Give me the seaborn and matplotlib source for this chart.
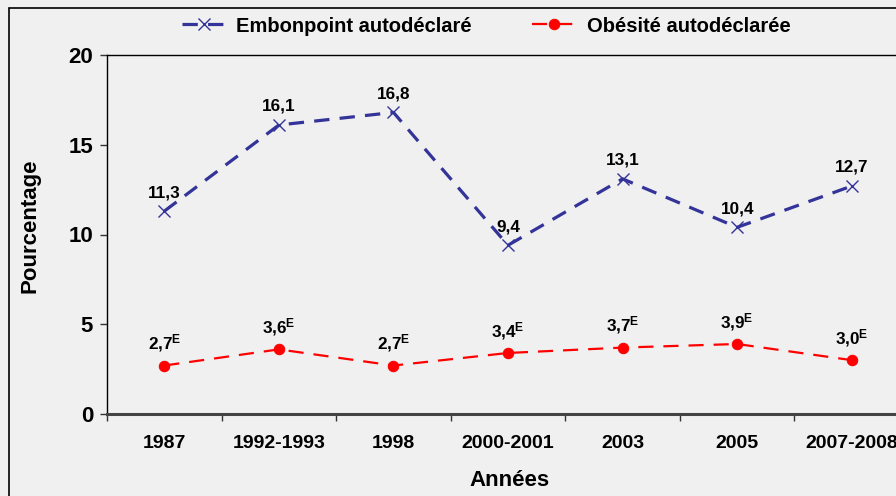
import matplotlib
matplotlib.use("Agg")
import matplotlib.pyplot as plt
import seaborn as sns
import pandas as pd
from matplotlib.patches import Rectangle

years = ["1987", "1992-1993", "1998", "2000-2001", "2003", "2005", "2007-2008"]
embonpoint = [11.3, 16.1, 16.8, 9.4, 13.1, 10.4, 12.7]
obesite = [2.7, 3.6, 2.7, 3.4, 3.7, 3.9, 3.0]
emb_labels = ["11,3", "16,1", "16,8", "9,4", "13,1", "10,4", "12,7"]
obe_labels = ["2,7", "3,6", "2,7", "3,4", "3,7", "3,9", "3,0"]
series_names = ["Embonpoint autodéclaré", "Obésité autodéclarée"]

sns.set_theme(style="white")
plt.rcParams["font.family"] = ["Liberation Sans", "DejaVu Sans"]
plt.rcParams["text.color"] = "black"
plt.rcParams["axes.labelcolor"] = "black"
plt.rcParams["xtick.labelcolor"] = "black"
plt.rcParams["ytick.labelcolor"] = "black"
plt.rcParams["mathtext.fontset"] = "custom"
plt.rcParams["mathtext.bf"] = "Liberation Sans:bold"
plt.rcParams["mathtext.rm"] = "Liberation Sans:bold"
plt.rcParams["mathtext.default"] = "bf"

bg = "#eff0ef"
fig = plt.figure(figsize=(8.96, 4.96), dpi=100, facecolor=bg)
ax = fig.add_axes([107/896, 1-414/496, (909-107)/896, (414-55)/496])
ax.set_facecolor(bg)

df = pd.DataFrame({"x": list(range(len(years))) * 2,
                   "y": embonpoint + obesite,
                   "serie": [series_names[0]] * len(years) + [series_names[1]] * len(years)})

blue = "#333399"
red = "#ff0000"
sns.lineplot(data=df[df.serie == series_names[0]], x="x", y="y", ax=ax, color=blue,
             linewidth=2.3, marker="x", markersize=8, markeredgewidth=1.0,
             markeredgecolor=blue, label=series_names[0])
ax.lines[-1].set_dashes([4.8, 3.2])
sns.lineplot(data=df[df.serie == series_names[1]], x="x", y="y", ax=ax, color=red,
             linewidth=1.6, marker="o", markersize=7.5, markeredgecolor=red,
             label=series_names[1])
ax.lines[-1].set_dashes([6.8, 4.5])

for i, (v, t) in enumerate(zip(embonpoint, emb_labels)):
    ax.annotate(t, (i, v), xytext=(0, 8), textcoords="offset points",
                ha="center", va="bottom", fontsize=12.3, fontweight="bold", color="black")
for i, (v, t) in enumerate(zip(obesite, obe_labels)):
    ax.annotate(t + r"$^{\mathbf{E}}$", (i, v), xytext=(0, 8), textcoords="offset points",
                ha="center", va="bottom", fontsize=12.3, fontweight="bold", color="black")

ax.set_xlim(-0.5, len(years) - 0.5)
ax.set_ylim(0, 20)
ax.set_yticks([0, 5, 10, 15, 20])
ax.set_yticklabels(["0", "5", "10", "15", "20"], fontsize=16, fontweight="bold", color="black")
ax.set_xticks(range(len(years)))
ax.set_xticklabels(years, fontsize=14, fontweight="bold", color="black")
ax.set_xticks([i + 0.5 for i in range(-1, len(years))], minor=True)
ax.tick_params(axis="x", which="major", length=0, pad=15)
ax.tick_params(axis="x", which="minor", length=5, width=1, color="#333333", direction="out", bottom=True)
ax.tick_params(axis="y", length=5, width=1, color="#333333", direction="out", left=True, pad=5)

for s in ["top", "left"]:
    ax.spines[s].set_color("black")
    ax.spines[s].set_linewidth(1.0)
ax.spines["bottom"].set_color("#444444")
ax.spines["bottom"].set_linewidth(2.2)
ax.spines["right"].set_visible(False)

ax.set_ylabel("Pourcentage", fontsize=16, fontweight="bold", color="black")
ax.yaxis.set_label_coords((30 - 107) / 802, (414 - 226) / 359)
ax.yaxis.label.set_verticalalignment("center")
ax.set_xlabel("Années", fontsize=16, fontweight="bold", color="black")
ax.xaxis.set_label_coords((509 - 107) / 802, -(481 - 414) / 359)
ax.xaxis.label.set_verticalalignment("center")

leg = ax.legend(ncol=2, frameon=False, prop={"weight": "bold", "size": 14.5},
                handlelength=2.2, handletextpad=0.5, columnspacing=3.0,
                loc="center", bbox_to_anchor=(486/896, 1-26/496),
                bbox_transform=fig.transFigure, borderaxespad=0)
for t in leg.get_texts():
    t.set_color("black")

fig.patches.append(Rectangle((9/896, -0.1), 1.2, 1 - 8/496 + 0.1, transform=fig.transFigure,
                             fill=False, edgecolor="black", linewidth=1.2, figure=fig))

fig.savefig("out.png", dpi=100, facecolor=bg)
